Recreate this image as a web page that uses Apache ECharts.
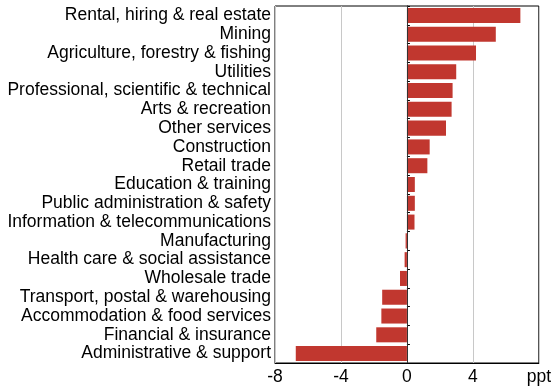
<!DOCTYPE html>
<html><head><meta charset="utf-8">
<script src="https://cdn.jsdelivr.net/npm/echarts@6/dist/echarts.min.js"></script>
<style>html,body{margin:0;padding:0;background:#fff}#c{width:554px;height:390px}</style>
</head><body><div id="c"></div>
<script>
const categories = ["Rental, hiring & real estate","Mining","Agriculture, forestry & fishing","Utilities","Professional, scientific & technical","Arts & recreation","Other services","Construction","Retail trade","Education & training","Public administration & safety","Information & telecommunications","Manufacturing","Health care & social assistance","Wholesale trade","Transport, postal & warehousing","Accommodation & food services","Financial & insurance","Administrative & support"];
const values = [6.88, 5.39, 4.19, 2.99, 2.77, 2.71, 2.37, 1.38, 1.24, 0.48, 0.48, 0.46, -0.08, -0.14, -0.42, -1.5, -1.55, -1.86, -6.74];
const xTicks = [-8, -4, 0, 4, 8];
const unitLabel = "ppt";

const chart = echarts.init(document.getElementById('c'));
chart.setOption({
  animation: false,
  grid: {left: 275, right: 13, top: 6, bottom: 27, show: true, borderColor: '#000', borderWidth: 1, containLabel: false},
  xAxis: {
    type: 'value', min: -8, max: 8, interval: 4,
    axisLine: {show: true, lineStyle: {color: '#000'}},
    axisTick: {show: false},
    splitLine: {show: true, lineStyle: {color: '#c8c8c8', width: 1}},
    axisLabel: {color: '#000', fontFamily: 'Liberation Sans, Arial', fontSize: 17.5, margin: 5,
      formatter: v => v === xTicks[xTicks.length-1] ? unitLabel : String(v)}
  },
  yAxis: {
    type: 'category', data: categories, inverse: true,
    axisLine: {show: true, lineStyle: {color: '#000'}},
    axisTick: {show: true, inside: true, length: 3, interval: 0, lineStyle: {color: '#000'}},
    axisLabel: {color: '#000', fontFamily: 'Liberation Sans, Arial', fontSize: 17.5, margin: 4, interval: 0}
  },
  series: [{
    type: 'bar', data: values, barCategoryGap: '20%',
    itemStyle: {color: '#c1372f'},
    markLine: {silent: true, symbol: 'none', label: {show: false},
      lineStyle: {color: '#333', type: 'solid', width: 1}, data: [{xAxis: 0}]}
  }]
});
</script></body></html>
